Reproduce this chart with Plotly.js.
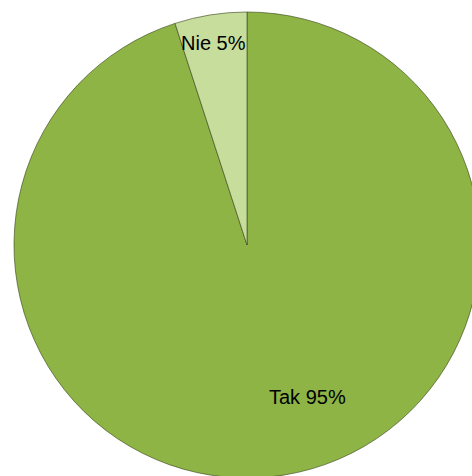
<!DOCTYPE html>
<html>
<head>
<meta charset="utf-8">
<script src="https://cdn.plot.ly/plotly-3.0.1.min.js"></script>
<style>
html,body{margin:0;padding:0;overflow:hidden;background:#fff;width:472px;height:476px;}
#chart{width:494px;height:490px;}
</style>
</head>
<body>
<div id="chart"></div>
<script>
const categories = ["Tak", "Nie"];
const values = [95, 5];
const labelTexts = ["Tak 95%", "Nie 5%"];
const colors = ["#8db444", "#c7dd9c"];

const trace = {
  type: "pie",
  labels: categories,
  values: values,
  sort: false,
  direction: "clockwise",
  rotation: 0,
  textinfo: "none",
  hoverinfo: "none",
  marker: {colors: colors, line: {color: "rgba(60,72,30,0.8)", width: 0.8}},
  showlegend: false,
  domain: {x: [0, 1], y: [0, 1]}
};

const layout = {
  width: 494,
  height: 490,
  margin: {l: 14, r: 14, t: 12, b: 12, pad: 0},
  paper_bgcolor: "#ffffff",
  showlegend: false,
  annotations: [
    {text: labelTexts[0], xref: "paper", yref: "paper", xanchor: "center", yanchor: "middle", showarrow: false,
     x: (307 - 14) / 466, y: 1 - (397 - 12) / 466,
     font: {family: "Liberation Sans, Arial, sans-serif", size: 20, color: "#000"}},
    {text: labelTexts[1], xref: "paper", yref: "paper", xanchor: "center", yanchor: "middle", showarrow: false,
     x: (213 - 14) / 466, y: 1 - (43 - 12) / 466,
     font: {family: "Liberation Sans, Arial, sans-serif", size: 20, color: "#000"}}
  ]
};

Plotly.newPlot("chart", [trace], layout, {staticPlot: true, displayModeBar: false});
</script>
</body>
</html>
